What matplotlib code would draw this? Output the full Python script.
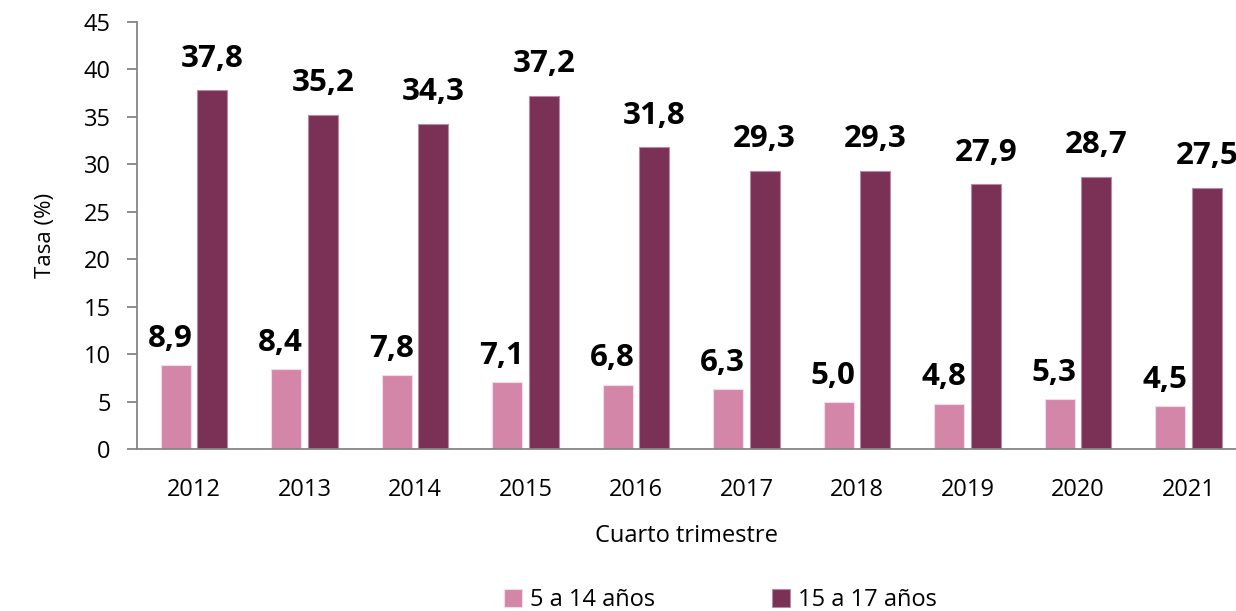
import matplotlib
matplotlib.use("Agg")
import matplotlib.pyplot as plt
import numpy as np

plt.rcParams['font.family'] = ['Open Sans', 'DejaVu Sans']

years = ['2012', '2013', '2014', '2015', '2016', '2017', '2018', '2019', '2020', '2021']
tasa_5_14 = [8.9, 8.4, 7.8, 7.1, 6.8, 6.3, 5.0, 4.8, 5.3, 4.5]
tasa_15_17 = [37.8, 35.2, 34.3, 37.2, 31.8, 29.3, 29.3, 27.9, 28.7, 27.5]

color_light = '#D486A9'
color_dark = '#7B3156'

fig = plt.figure(figsize=(12.36, 6.11), dpi=100)
ax = fig.add_axes([0.1108, 0.265, 0.8892, 0.699])

x = np.arange(len(years))
w = 0.275
gap = 0.055
b1 = ax.bar(x - (w + gap) / 2, tasa_5_14, w, color=color_light,
            edgecolor='#f3dce7', linewidth=0.8, label='5 a 14 años')
b2 = ax.bar(x + (w + gap) / 2, tasa_15_17, w, color=color_dark,
            edgecolor='#b98aa1', linewidth=0.8, label='15 a 17 años')

# value labels, comma decimal
for rect, v in zip(b1, tasa_5_14):
    ax.annotate(f"{v:.1f}".replace('.', ','),
                (rect.get_x() + rect.get_width() / 2, v),
                xytext=(-4, 8), textcoords='offset points',
                ha='center', va='bottom', fontsize=22.5, fontweight='bold')
for rect, v in zip(b2, tasa_15_17):
    ax.annotate(f"{v:.1f}".replace('.', ','),
                (rect.get_x() + rect.get_width() / 2, v),
                xytext=(0, 12), textcoords='offset points',
                ha='center', va='bottom', fontsize=22.5, fontweight='bold')

ax.set_xlim(-0.516, 9.43)
ax.set_ylim(0, 45)
ax.set_yticks(np.arange(0, 46, 5))
ax.set_xticks(x)
ax.set_xticklabels(years)

for s in ['top', 'right']:
    ax.spines[s].set_visible(False)
for s in ['left', 'bottom']:
    ax.spines[s].set_color('#868686')
    ax.spines[s].set_linewidth(1.3)

ax.tick_params(axis='y', length=7, width=1.3, color='#868686', pad=12, labelsize=17)
ax.tick_params(axis='x', length=0, pad=21, labelsize=17)

ax.set_ylabel('Tasa (%)', fontsize=16, labelpad=20)
ax.set_xlabel('Cuarto trimestre', fontsize=17, labelpad=16)

fig.legend(handles=[b1, b2], loc='lower center', bbox_to_anchor=(0.583, -0.037),
           ncol=2, frameon=False, fontsize=17, handlelength=0.75, handleheight=0.75,
           columnspacing=4.95, handletextpad=0.35)

fig.savefig('out.png', dpi=100)
